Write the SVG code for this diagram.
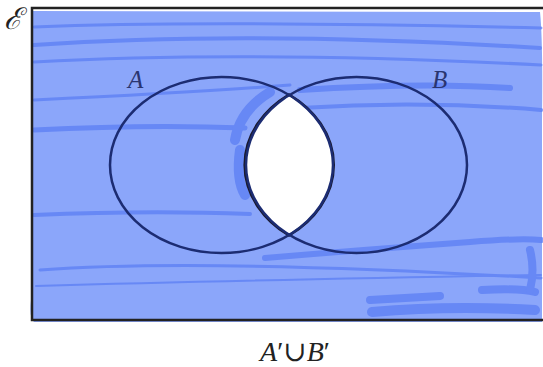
<svg xmlns="http://www.w3.org/2000/svg" width="543" height="367" viewBox="0 0 543 367">
<style>
.lbl{font-family:"Liberation Serif","DejaVu Serif",serif;font-style:italic;font-size:25px;fill:#2a3570}
.cap{font-family:"Liberation Serif","DejaVu Serif",serif;font-size:28px;fill:#222}
.circ{fill:none;stroke:#1c2c72;stroke-width:2.5}
.streak{fill:none;stroke:#5b7ef4;stroke-linecap:round;opacity:0.75}
</style>
<rect width="543" height="367" fill="#fff"/>
<g id="universe">
<path d="M31,11 L540,12 Q543,40 542,120 L542,322 L34,322 Q29,318 31,300 Z" fill="#8ba6fa"/>
<g class="streak">
<path d="M34,27 Q200,20 541,28" stroke-width="3"/>
<path d="M34,45 Q250,30 540,48" stroke-width="4"/>
<path d="M34,62 Q250,50 541,65" stroke-width="3"/>
<path d="M34,100 Q200,92 290,85" stroke-width="3"/>
<path d="M300,90 Q420,82 510,88" stroke-width="6"/>
<path d="M300,108 Q420,100 541,110" stroke-width="4"/>
<path d="M34,130 Q150,124 245,128" stroke-width="5"/>
<path d="M235,140 Q240,110 270,92" stroke-width="10"/>
<path d="M240,150 Q236,180 245,195" stroke-width="10"/>
<path d="M34,215 Q150,210 250,214" stroke-width="4"/>
<path d="M265,258 Q360,250 470,242 Q520,238 541,240" stroke-width="6"/>
<path d="M40,270 Q200,258 541,278" stroke-width="3"/>
<path d="M36,286 Q250,280 541,275" stroke-width="2"/>
<path d="M370,300 L440,296" stroke-width="8"/>
<path d="M372,312 Q450,305 535,310" stroke-width="10"/>
<path d="M482,290 Q520,288 535,292" stroke-width="8"/>
<path d="M530,250 Q535,270 530,290" stroke-width="8"/>
</g>
</g>
<g id="lens">
<path d="M289,94.5 A110.5,88 0 0,0 289,235.5 A111.5,88 0 0,0 289,94.5 Z" fill="#fff" stroke="#1a1a2e" stroke-width="2.5"/>
</g>
<g id="A">
<ellipse class="circ" cx="221.5" cy="165" rx="111.5" ry="88"/>
<text class="lbl" x="128" y="88">A</text>
</g>
<g id="B">
<ellipse class="circ" cx="356.5" cy="165" rx="110.5" ry="88"/>
<text class="lbl" x="432" y="88">B</text>
</g>
<g id="frame" fill="none" stroke="#222" stroke-width="2.5">
<path d="M543,8 L32,8 L32,320 L543,320"/>
</g>
<g id="connectors"/>
<text x="4" y="29" font-family="'DejaVu Serif','Liberation Serif',serif" font-style="italic" font-size="30" fill="#222">ℰ</text>
<text class="cap" x="295" y="361" text-anchor="middle"><tspan font-style="italic">A</tspan>′∪<tspan font-style="italic">B</tspan>′</text>
</svg>
